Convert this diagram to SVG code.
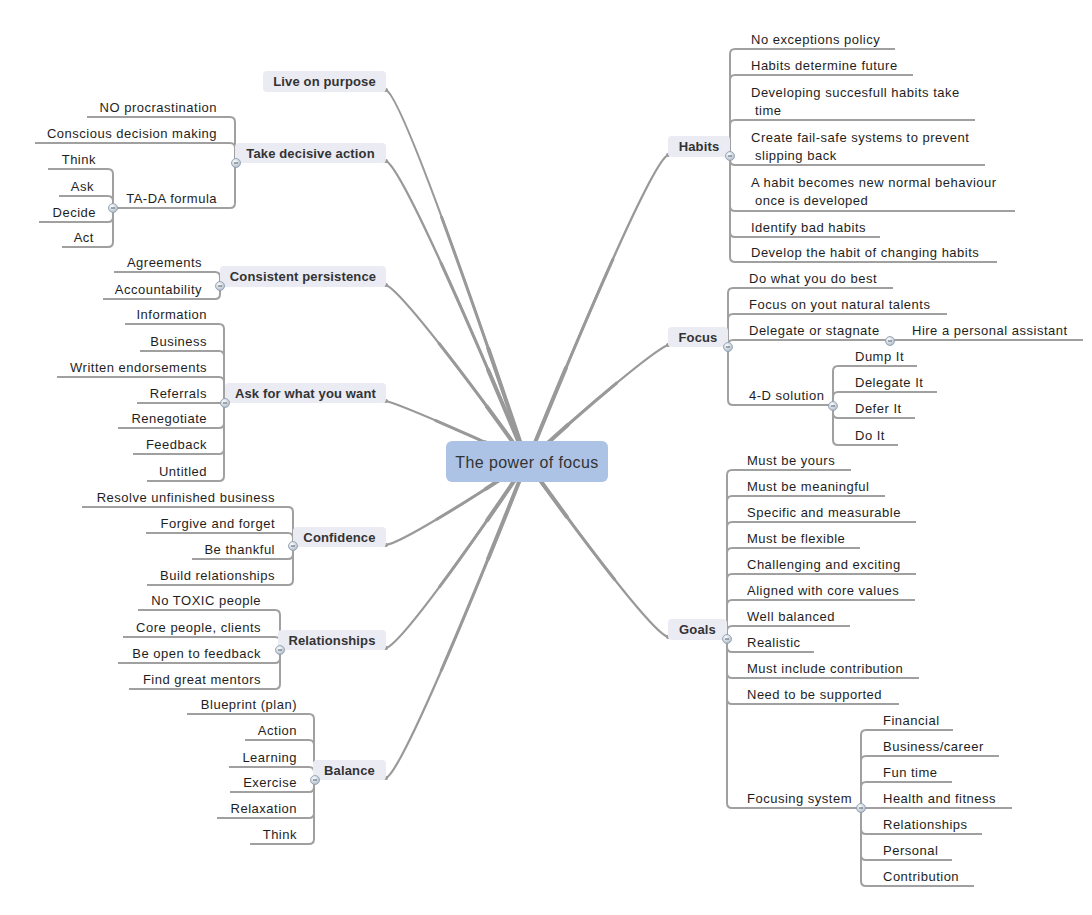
<svg xmlns="http://www.w3.org/2000/svg" width="1092" height="915" viewBox="0 0 1092 915">
<defs>
<style>
.sub{font-family:"Liberation Sans",Arial,sans-serif;font-size:13px;fill:#1e1e1e;letter-spacing:0.5px}
.end{text-anchor:end}
.topic{font-family:"Liberation Sans",Arial,sans-serif;font-size:13px;font-weight:bold;fill:#333;text-anchor:middle;letter-spacing:0.15px}
.central{font-family:"Liberation Sans",Arial,sans-serif;font-size:16px;fill:#333;text-anchor:middle;letter-spacing:0.4px}
.tbox{fill:#ebebf4}
.main{fill:none;stroke:#999;stroke-width:2.2;stroke-linecap:round}
.m2{stroke-width:3;stroke-dasharray:0 35 65}
.m3{stroke-width:4;stroke-dasharray:0 70 30}
.br{fill:none;stroke:#a0a0a0;stroke-width:2}
</style>
<radialGradient id="cg" cx="0.4" cy="0.35" r="0.7">
<stop offset="0" stop-color="#ffffff"/>
<stop offset="1" stop-color="#aab6c4"/>
</radialGradient>
<g id="col">
<circle r="4.5" fill="url(#cg)" stroke="#8a9aac" stroke-width="0.8"/>
<line x1="-2" y1="0" x2="2" y2="0" stroke="#4a5a6a" stroke-width="1"/>
</g>
<path id="c1" d="M386,90 C401,96 470.6,294.6 527,462"/>
<path id="c2" d="M386,161 C401,167 470.6,326.6 527,462"/>
<path id="c3" d="M386,285 C401,291 470.6,382.4 527,462"/>
<path id="c4" d="M386,401 C401,405 470.6,434.6 527,462"/>
<path id="c5" d="M386,545 C401,543 470.6,499.4 527,462"/>
<path id="c6" d="M386,648 C401,644 470.6,545.7 527,462"/>
<path id="c7" d="M386,778 C401,772 470.6,604.2 527,462"/>
<path id="c8" d="M668,155 C653,161 583.4,323.9 527,462"/>
<path id="c9" d="M668,345 C653,351 583.4,409.4 527,462"/>
<path id="c10" d="M668,637 C653,633 583.4,540.8 527,462"/>
</defs>
<rect width="1092" height="915" fill="#ffffff"/>

<g id="connectors">
<path class="main" pathLength="100" d="M386,90 C401,96 470.6,294.6 527,462"/>
<path class="main m2" pathLength="100" d="M386,90 C401,96 470.6,294.6 527,462"/>
<path class="main m3" pathLength="100" d="M386,90 C401,96 470.6,294.6 527,462"/>
<path class="main" pathLength="100" d="M386,161 C401,167 470.6,326.6 527,462"/>
<path class="main m2" pathLength="100" d="M386,161 C401,167 470.6,326.6 527,462"/>
<path class="main m3" pathLength="100" d="M386,161 C401,167 470.6,326.6 527,462"/>
<path class="main" pathLength="100" d="M386,285 C401,291 470.6,382.4 527,462"/>
<path class="main m2" pathLength="100" d="M386,285 C401,291 470.6,382.4 527,462"/>
<path class="main m3" pathLength="100" d="M386,285 C401,291 470.6,382.4 527,462"/>
<path class="main" pathLength="100" d="M386,401 C401,405 470.6,434.6 527,462"/>
<path class="main m2" pathLength="100" d="M386,401 C401,405 470.6,434.6 527,462"/>
<path class="main m3" pathLength="100" d="M386,401 C401,405 470.6,434.6 527,462"/>
<path class="main" pathLength="100" d="M386,545 C401,543 470.6,499.4 527,462"/>
<path class="main m2" pathLength="100" d="M386,545 C401,543 470.6,499.4 527,462"/>
<path class="main m3" pathLength="100" d="M386,545 C401,543 470.6,499.4 527,462"/>
<path class="main" pathLength="100" d="M386,648 C401,644 470.6,545.7 527,462"/>
<path class="main m2" pathLength="100" d="M386,648 C401,644 470.6,545.7 527,462"/>
<path class="main m3" pathLength="100" d="M386,648 C401,644 470.6,545.7 527,462"/>
<path class="main" pathLength="100" d="M386,778 C401,772 470.6,604.2 527,462"/>
<path class="main m2" pathLength="100" d="M386,778 C401,772 470.6,604.2 527,462"/>
<path class="main m3" pathLength="100" d="M386,778 C401,772 470.6,604.2 527,462"/>
<path class="main" pathLength="100" d="M668,155 C653,161 583.4,323.9 527,462"/>
<path class="main m2" pathLength="100" d="M668,155 C653,161 583.4,323.9 527,462"/>
<path class="main m3" pathLength="100" d="M668,155 C653,161 583.4,323.9 527,462"/>
<path class="main" pathLength="100" d="M668,345 C653,351 583.4,409.4 527,462"/>
<path class="main m2" pathLength="100" d="M668,345 C653,351 583.4,409.4 527,462"/>
<path class="main m3" pathLength="100" d="M668,345 C653,351 583.4,409.4 527,462"/>
<path class="main" pathLength="100" d="M668,637 C653,633 583.4,540.8 527,462"/>
<path class="main m2" pathLength="100" d="M668,637 C653,633 583.4,540.8 527,462"/>
<path class="main m3" pathLength="100" d="M668,637 C653,633 583.4,540.8 527,462"/>

<!-- Take decisive action -->
<path class="br" d="M235,163 V122 Q235,117 230,117 H87"/>
<path class="br" d="M235,163 V148 Q235,143 230,143 H35"/>
<path class="br" d="M235,163 V203 Q235,208 230,208 H113"/>
<!-- TA-DA -->
<path class="br" d="M113,208 V174 Q113,169 108,169 H48"/>
<path class="br" d="M113,208 V201 Q113,196 108,196 H59"/>
<path class="br" d="M113,208 V217 Q113,222 108,222 H39"/>
<path class="br" d="M113,208 V242 Q113,247 108,247 H62"/>
<!-- Consistent persistence -->
<path class="br" d="M220,286 V277 Q220,272 215,272 H114"/>
<path class="br" d="M220,286 V294 Q220,299 215,299 H103"/>
<!-- Ask -->
<path class="br" d="M224,403 V329 Q224,324 219,324 H125"/>
<path class="br" d="M224,403 V356 Q224,351 219,351 H140"/>
<path class="br" d="M224,403 V382 Q224,377 219,377 H57"/>
<path class="br" d="M224,403 H137"/>
<path class="br" d="M224,403 V423 Q224,428 219,428 H118"/>
<path class="br" d="M224,403 V449 Q224,454 219,454 H133"/>
<path class="br" d="M224,403 V476 Q224,481 219,481 H147"/>
<!-- Confidence -->
<path class="br" d="M293,546 V512 Q293,507 288,507 H82"/>
<path class="br" d="M293,546 V538 Q293,533 288,533 H146"/>
<path class="br" d="M293,546 V554 Q293,559 288,559 H192"/>
<path class="br" d="M293,546 V580 Q293,585 288,585 H147"/>
<!-- Relationships -->
<path class="br" d="M280,650 V615 Q280,610 275,610 H138"/>
<path class="br" d="M280,650 V642 Q280,637 275,637 H123"/>
<path class="br" d="M280,650 V658 Q280,663 275,663 H118"/>
<path class="br" d="M280,650 V684 Q280,689 275,689 H129"/>
<!-- Balance -->
<path class="br" d="M314,780 V719 Q314,714 309,714 H187"/>
<path class="br" d="M314,780 V745 Q314,740 309,740 H245"/>
<path class="br" d="M314,780 V772 Q314,767 309,767 H229"/>
<path class="br" d="M314,780 V787 Q314,792 309,792 H230"/>
<path class="br" d="M314,780 V813 Q314,818 309,818 H217"/>
<path class="br" d="M314,780 V839 Q314,844 309,844 H250"/>
<!-- Habits -->
<path class="br" d="M730,156 V54 Q730,49 735,49 H895"/>
<path class="br" d="M730,156 V80 Q730,75 735,75 H913"/>
<path class="br" d="M730,156 V125 Q730,120 735,120 H975"/>
<path class="br" d="M730,156 V160 Q730,165 735,165 H985"/>
<path class="br" d="M730,156 V206 Q730,211 735,211 H1015"/>
<path class="br" d="M730,156 V232 Q730,237 735,237 H880"/>
<path class="br" d="M730,156 V257 Q730,262 735,262 H997"/>
<!-- Focus -->
<path class="br" d="M728,347 V293 Q728,288 733,288 H893"/>
<path class="br" d="M728,347 V319 Q728,314 733,314 H947"/>
<path class="br" d="M728,347 V345 Q728,340 733,340 H890"/>
<path class="br" d="M728,347 V400 Q728,405 733,405 H833"/>
<path class="br" d="M890,340 H1083"/>
<!-- 4-D -->
<path class="br" d="M833,405 V371 Q833,366 838,366 H917"/>
<path class="br" d="M833,405 V397 Q833,392 838,392 H937"/>
<path class="br" d="M833,405 V413 Q833,418 838,418 H915"/>
<path class="br" d="M833,405 V440 Q833,445 838,445 H898"/>
<!-- Goals -->
<path class="br" d="M727,639 V475 Q727,470 732,470 H851"/>
<path class="br" d="M727,639 V501 Q727,496 732,496 H885"/>
<path class="br" d="M727,639 V527 Q727,522 732,522 H916"/>
<path class="br" d="M727,639 V553 Q727,548 732,548 H860"/>
<path class="br" d="M727,639 V579 Q727,574 732,574 H916"/>
<path class="br" d="M727,639 V605 Q727,600 732,600 H915"/>
<path class="br" d="M727,639 V631 Q727,626 732,626 H850"/>
<path class="br" d="M727,639 V647 Q727,652 732,652 H814"/>
<path class="br" d="M727,639 V673 Q727,678 732,678 H919"/>
<path class="br" d="M727,639 V699 Q727,704 732,704 H899"/>
<path class="br" d="M727,639 V803 Q727,808 732,808 H861"/>
<!-- Focusing system -->
<path class="br" d="M861,808 V735 Q861,730 866,730 H953"/>
<path class="br" d="M861,808 V761 Q861,756 866,756 H999"/>
<path class="br" d="M861,808 V787 Q861,782 866,782 H952"/>
<path class="br" d="M861,808 H1012"/>
<path class="br" d="M861,808 V829 Q861,834 866,834 H982"/>
<path class="br" d="M861,808 V855 Q861,860 866,860 H952"/>
<path class="br" d="M861,808 V881 Q861,886 866,886 H974"/>
</g>

<g id="central">
<rect x="446" y="441" width="162" height="41" rx="6" fill="#adc3e6"/>
<text class="central" x="527" y="468">The power of focus</text>
</g>

<g id="live-on-purpose">
<rect class="tbox" x="263" y="71" width="123" height="21" rx="4"/>
<text class="topic" x="324.5" y="86">Live on purpose</text>
</g>

<g id="take-decisive-action">
<rect class="tbox" x="235" y="143" width="151" height="20" rx="4"/>
<text class="topic" x="310.5" y="158">Take decisive action</text>
<text class="sub end" x="217" y="112">NO procrastination</text>
<text class="sub end" x="217" y="138">Conscious decision making</text>
<text class="sub end" x="217" y="203">TA-DA formula</text>
<text class="sub end" x="96" y="164">Think</text>
<text class="sub end" x="94" y="191">Ask</text>
<text class="sub end" x="96" y="217">Decide</text>
<text class="sub end" x="94" y="242">Act</text>
</g>

<g id="consistent-persistence">
<rect class="tbox" x="220" y="266" width="166" height="21" rx="4"/>
<text class="topic" x="303" y="281">Consistent persistence</text>
<text class="sub end" x="202" y="267">Agreements</text>
<text class="sub end" x="202" y="294">Accountability</text>
</g>

<g id="ask-for-what-you-want">
<rect class="tbox" x="225" y="383" width="161" height="20" rx="4"/>
<text class="topic" x="305.5" y="398">Ask for what you want</text>
<text class="sub end" x="207" y="319">Information</text>
<text class="sub end" x="207" y="346">Business</text>
<text class="sub end" x="207" y="372">Written endorsements</text>
<text class="sub end" x="207" y="398">Referrals</text>
<text class="sub end" x="207" y="423">Renegotiate</text>
<text class="sub end" x="207" y="449">Feedback</text>
<text class="sub end" x="207" y="476">Untitled</text>
</g>

<g id="confidence">
<rect class="tbox" x="293" y="527" width="93" height="20" rx="4"/>
<text class="topic" x="339.5" y="542">Confidence</text>
<text class="sub end" x="275" y="502">Resolve unfinished business</text>
<text class="sub end" x="275" y="528">Forgive and forget</text>
<text class="sub end" x="275" y="554">Be thankful</text>
<text class="sub end" x="275" y="580">Build relationships</text>
</g>

<g id="relationships">
<rect class="tbox" x="278" y="630" width="108" height="20" rx="4"/>
<text class="topic" x="332" y="645">Relationships</text>
<text class="sub end" x="261" y="605">No TOXIC people</text>
<text class="sub end" x="261" y="632">Core people, clients</text>
<text class="sub end" x="261" y="658">Be open to feedback</text>
<text class="sub end" x="261" y="684">Find great mentors</text>
</g>

<g id="balance">
<rect class="tbox" x="313" y="760" width="73" height="20" rx="4"/>
<text class="topic" x="349.5" y="775">Balance</text>
<text class="sub end" x="297" y="709">Blueprint (plan)</text>
<text class="sub end" x="297" y="735">Action</text>
<text class="sub end" x="297" y="762">Learning</text>
<text class="sub end" x="297" y="787">Exercise</text>
<text class="sub end" x="297" y="813">Relaxation</text>
<text class="sub end" x="297" y="839">Think</text>
</g>

<g id="habits">
<rect class="tbox" x="668" y="136" width="62" height="21" rx="4"/>
<text class="topic" x="699" y="151">Habits</text>
<text class="sub" x="751" y="44">No exceptions policy</text>
<text class="sub" x="751" y="70">Habits determine future</text>
<text class="sub" x="751" y="97">Developing succesfull habits take</text>
<text class="sub" x="755" y="115">time</text>
<text class="sub" x="751" y="142">Create fail-safe systems to prevent</text>
<text class="sub" x="755" y="160">slipping back</text>
<text class="sub" x="751" y="187">A habit becomes new normal behaviour</text>
<text class="sub" x="755" y="205">once is developed</text>
<text class="sub" x="751" y="232">Identify bad habits</text>
<text class="sub" x="751" y="257">Develop the habit of changing habits</text>
</g>

<g id="focus">
<rect class="tbox" x="668" y="327" width="60" height="20" rx="4"/>
<text class="topic" x="698" y="342">Focus</text>
<text class="sub" x="749" y="283">Do what you do best</text>
<text class="sub" x="749" y="309">Focus on yout natural talents</text>
<text class="sub" x="749" y="335">Delegate or stagnate</text>
<text class="sub" x="912" y="335">Hire a personal assistant</text>
<text class="sub" x="749" y="400">4-D solution</text>
<text class="sub" x="855" y="361">Dump It</text>
<text class="sub" x="855" y="387">Delegate It</text>
<text class="sub" x="855" y="413">Defer It</text>
<text class="sub" x="855" y="440">Do It</text>
</g>

<g id="goals">
<rect class="tbox" x="668" y="619" width="59" height="21" rx="4"/>
<text class="topic" x="697.5" y="634">Goals</text>
<text class="sub" x="747" y="465">Must be yours</text>
<text class="sub" x="747" y="491">Must be meaningful</text>
<text class="sub" x="747" y="517">Specific and measurable</text>
<text class="sub" x="747" y="543">Must be flexible</text>
<text class="sub" x="747" y="569">Challenging and exciting</text>
<text class="sub" x="747" y="595">Aligned with core values</text>
<text class="sub" x="747" y="621">Well balanced</text>
<text class="sub" x="747" y="647">Realistic</text>
<text class="sub" x="747" y="673">Must include contribution</text>
<text class="sub" x="747" y="699">Need to be supported</text>
<text class="sub" x="747" y="803">Focusing system</text>
<text class="sub" x="883" y="725">Financial</text>
<text class="sub" x="883" y="751">Business/career</text>
<text class="sub" x="883" y="777">Fun time</text>
<text class="sub" x="883" y="803">Health and fitness</text>
<text class="sub" x="883" y="829">Relationships</text>
<text class="sub" x="883" y="855">Personal</text>
<text class="sub" x="883" y="881">Contribution</text>
</g>

<g id="collapse-buttons">
<use href="#col" x="236" y="163"/>
<use href="#col" x="113" y="208"/>
<use href="#col" x="220" y="286"/>
<use href="#col" x="225" y="403"/>
<use href="#col" x="293" y="546"/>
<use href="#col" x="280" y="650"/>
<use href="#col" x="315" y="780"/>
<use href="#col" x="730" y="156"/>
<use href="#col" x="728" y="347"/>
<use href="#col" x="890" y="341"/>
<use href="#col" x="833" y="406"/>
<use href="#col" x="727" y="639"/>
<use href="#col" x="861" y="808"/>
</g>
</svg>
